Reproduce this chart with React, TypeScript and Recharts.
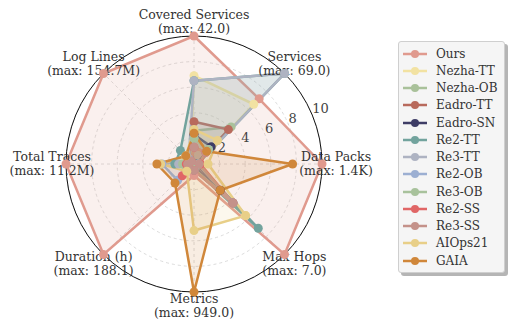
import React from "react";
import {
  RadarChart,
  Radar,
  PolarGrid,
  PolarAngleAxis,
  PolarRadiusAxis,
  Legend,
} from "recharts";

// axis order: clockwise from the top
const axes = [
  "Covered Services",
  "Services",
  "Data Packs",
  "Max Hops",
  "Metrics",
  "Duration (h)",
  "Total Traces",
  "Log Lines",
];
const axisMax = ["42.0", "69.0", "1.4K", "7.0", "949.0", "188.1", "11.2M", "154.7M"];
const radiusTicks = [2, 4, 6, 8, 10];

// normalized scores (0-10), same order as axes
const ours = [10, 7.2, 10, 10, 0.9, 10, 10, 10];
const nezhaTT = [6.9, 6.6, 0.3, 5.7, 0.3, 0.4, 1.1, 0.4];
const nezhaOB = [2.6, 4.1, 0.3, 4.3, 0.2, 0.3, 0.4, 0.3];
const eadroTT = [3.3, 3.8, 0.2, 4.3, 0.4, 0.5, 0.6, 0.5];
const eadroSN = [2.3, 1.9, 0.2, 2.9, 0.2, 0.4, 0.3, 0.3];
const re2TT = [6.5, 10, 0.3, 7.1, 0.4, 0.6, 1.5, 1.5];
const re3TT = [6.5, 10, 0.3, 4.3, 0.4, 0.5, 1.2, 0.6];
const re2OB = [2.0, 1.6, 0.4, 4.3, 0.5, 1.8, 2.5, 0.4];
const re3OB = [2.0, 1.6, 0.4, 4.3, 0.4, 0.6, 0.9, 0.3];
const re2SS = [1.3, 1.3, 0.5, 4.3, 0.5, 1.3, 0.6, 0.3];
const re3SS = [1.3, 1.3, 0.4, 4.3, 0.5, 0.6, 0.5, 0.3];
const aiops21 = [2.7, 2.6, 1.1, 5.7, 5.2, 0.8, 2.6, 0.9];
const gaia = [2.4, 1.4, 7.7, 2.9, 10, 2.1, 2.9, 0.9];

const seriesNames = [
  "Ours",
  "Nezha-TT",
  "Nezha-OB",
  "Eadro-TT",
  "Eadro-SN",
  "Re2-TT",
  "Re3-TT",
  "Re2-OB",
  "Re3-OB",
  "Re2-SS",
  "Re3-SS",
  "AIOps21",
  "GAIA",
];
const seriesValues = [
  ours, nezhaTT, nezhaOB, eadroTT, eadroSN, re2TT, re3TT,
  re2OB, re3OB, re2SS, re3SS, aiops21, gaia,
];
const seriesColors = [
  "#E09A8E",
  "#F2E2A2",
  "#A9C19A",
  "#B86A5C",
  "#3E3D66",
  "#72A39D",
  "#AEB3C2",
  "#9CAFD2",
  "#A8C29C",
  "#E06666",
  "#C4928A",
  "#E8CF88",
  "#D0873A",
];

const data = axes.map((axis, i) => {
  const row: Record<string, any> = { axis };
  seriesValues.forEach((vals, j) => {
    row["s" + j] = vals[i];
  });
  return row;
});

const CX = 194;
const CY = 164;
const R = 128;

const AngleTick = (props: any) => {
  const { x, y, payload } = props;
  const idx = axes.indexOf(payload.value);
  const dx = x - CX;
  const dy = y - CY;
  const d = Math.sqrt(dx * dx + dy * dy) || 1;
  const lx = CX + (dx / d) * (R + 14);
  const ly = CY + (dy / d) * (R + 14);
  return (
    <text x={lx} y={ly} textAnchor="middle" fontSize={12.5} fill="#333">
      <tspan x={lx} dy={-3}>{payload.value}</tspan>
      <tspan x={lx} dy={14}>(max: {axisMax[idx]})</tspan>
    </text>
  );
};

const RadiusTick = (props: any) => {
  const { x, y, payload } = props;
  if (payload.value === 0) return <g />;
  return (
    <text x={x} y={y - 2} textAnchor="start" fontSize={13} fill="#444">
      {payload.value}
    </text>
  );
};

// legend drawn in series order (recharts would sort it by name)
const renderLegend = () => (
  <div
    style={{
      background: "#f5f5f5",
      border: "1px solid #cfcfcf",
      borderRadius: 3,
      boxShadow: "3px 3px 0 #b5b5b5",
      padding: "3px 6px 3px 3px",
      fontSize: 12,
      color: "#333",
    }}
  >
    {seriesNames.map((name, j) => (
      <div key={name} style={{ display: "flex", alignItems: "center", height: 17.25 }}>
        <svg width={26} height={10}>
          <line x1={1} y1={5} x2={25} y2={5} stroke={seriesColors[j]} strokeWidth={2.5} />
          <circle cx={13} cy={5} r={4} fill={seriesColors[j]} />
        </svg>
        <span style={{ marginLeft: 8 }}>{name}</span>
      </div>
    ))}
  </div>
);

export default function App() {
  return (
    <div
      style={{
        position: "absolute",
        left: 0,
        top: 0,
        width: 508,
        height: 328,
        background: "#fff",
        fontFamily: "'DejaVu Serif', serif",
      }}
    >
      <RadarChart
        width={508}
        height={328}
        data={data}
        cx={CX}
        cy={CY}
        outerRadius={R}
        margin={{ top: 0, right: 0, bottom: 0, left: 0 }}
      >
        <PolarGrid
          gridType="circle"
          polarRadius={radiusTicks.map((t) => (t / 10) * R)}
          stroke="#dcdcdc"
          strokeDasharray="3 3"
        />
        <PolarGrid
          gridType="circle"
          polarRadius={[R]}
          radialLines={false}
          stroke="#111"
          strokeDasharray="0"
        />
        <PolarAngleAxis dataKey="axis" tick={<AngleTick />} tickLine={false} axisLine={false} />
        <PolarRadiusAxis
          angle={22.5}
          domain={[0, 10]}
          tickCount={6}
          tick={<RadiusTick />}
          axisLine={false}
          tickLine={false}
        />
        {seriesNames.map((name, j) => (
          <Radar
            key={name}
            name={name}
            dataKey={"s" + j}
            stroke={seriesColors[j]}
            strokeWidth={2.5}
            fill={seriesColors[j]}
            fillOpacity={0.15}
            dot={{ r: 4.5, fill: seriesColors[j], stroke: seriesColors[j], strokeWidth: 0, fillOpacity: 1 }}
            isAnimationActive={false}
          />
        ))}
        <Legend
          layout="vertical"
          align="right"
          verticalAlign="top"
          content={renderLegend}
          wrapperStyle={{ left: 398, top: 41, right: "auto", bottom: "auto", width: "auto" }}
        />
      </RadarChart>
    </div>
  );
}
